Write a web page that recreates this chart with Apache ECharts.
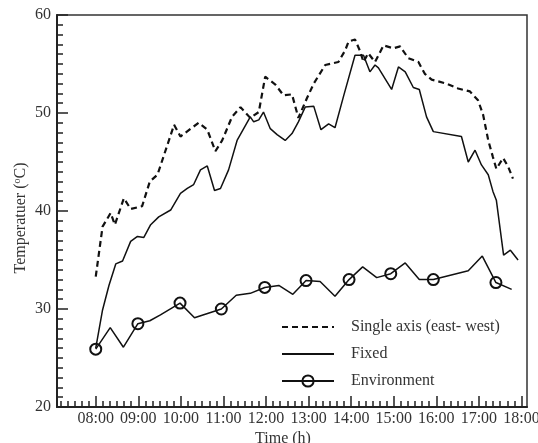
<!DOCTYPE html>
<html>
<head>
<meta charset="utf-8">
<script src="https://cdn.jsdelivr.net/npm/echarts@6/dist/echarts.min.js"></script>
<style>
  html, body { margin: 0; padding: 0; background: #fff; }
  #chart { width: 538px; height: 443px; }
</style>
</head>
<body>
<div id="chart"></div>
<script>
// Temperatures over the day (time in decimal hours, °C)
const singleAxisTime = [8.00, 8.16, 8.35, 8.45, 8.66, 8.82, 9.09, 9.27, 9.45, 9.84, 9.99, 10.23, 10.42, 10.62, 10.81, 10.97, 11.20, 11.40, 11.63, 11.83, 11.98, 12.22, 12.41, 12.61, 12.76, 12.96, 13.12, 13.39, 13.70, 13.86, 13.94, 14.09, 14.21, 14.29, 14.40, 14.56, 14.76, 14.99, 15.15, 15.34, 15.58, 15.73, 15.89, 16.24, 16.51, 16.79, 16.98, 17.10, 17.22, 17.33, 17.41, 17.57, 17.69, 17.80];
const singleAxisTemp = [33.3, 38.4, 39.8, 38.6, 41.3, 40.2, 40.5, 43.0, 43.7, 48.8, 47.6, 48.4, 49.0, 48.3, 46.1, 47.2, 49.6, 50.6, 49.5, 50.1, 53.7, 52.9, 51.8, 51.9, 49.5, 51.5, 53.0, 54.9, 55.2, 56.4, 57.3, 57.5, 56.3, 55.2, 56.1, 55.2, 56.9, 56.6, 56.8, 55.6, 55.2, 54.0, 53.4, 53.0, 52.5, 52.2, 51.3, 49.8, 47.2, 45.5, 44.3, 45.4, 44.5, 43.3];

const fixedTime = [8.00, 8.16, 8.31, 8.47, 8.63, 8.82, 8.98, 9.13, 9.29, 9.48, 9.76, 9.99, 10.15, 10.30, 10.46, 10.62, 10.79, 10.93, 11.12, 11.32, 11.63, 11.71, 11.83, 11.94, 12.10, 12.26, 12.45, 12.61, 12.76, 12.92, 13.12, 13.29, 13.47, 13.62, 13.82, 14.09, 14.29, 14.44, 14.56, 14.64, 14.95, 15.11, 15.27, 15.46, 15.60, 15.77, 15.93, 16.59, 16.75, 16.91, 17.06, 17.22, 17.33, 17.41, 17.58, 17.74, 17.92];
const fixedTemp = [26.0, 29.9, 32.4, 34.6, 34.9, 36.9, 37.4, 37.3, 38.6, 39.4, 40.1, 41.8, 42.3, 42.7, 44.2, 44.6, 42.1, 42.3, 44.2, 47.2, 49.6, 49.1, 49.3, 50.1, 48.4, 47.8, 47.2, 47.9, 49.1, 50.6, 50.7, 48.3, 48.9, 48.5, 51.7, 55.9, 55.9, 54.2, 54.9, 54.6, 52.4, 54.7, 54.2, 52.6, 52.4, 49.6, 48.1, 47.6, 45.0, 46.2, 44.7, 43.7, 42.0, 41.1, 35.5, 36.0, 35.0];

const envTime = [8.00, 8.34, 8.65, 8.99, 9.27, 9.52, 9.98, 10.32, 10.95, 11.30, 11.63, 11.97, 12.30, 12.63, 12.94, 13.27, 13.62, 13.95, 14.27, 14.60, 14.93, 15.27, 15.60, 15.93, 16.75, 17.08, 17.40, 17.77];
const envTemp = [25.9, 28.1, 26.1, 28.5, 28.8, 29.4, 30.6, 29.1, 30.0, 31.4, 31.6, 32.2, 32.4, 31.5, 32.9, 32.8, 31.3, 33.0, 34.3, 33.2, 33.6, 34.7, 33.0, 33.0, 33.9, 35.4, 32.7, 32.0];
// points that carry a circle symbol
const envMarked = [1, 0, 0, 1, 0, 0, 1, 0, 1, 0, 0, 1, 0, 0, 1, 0, 0, 1, 0, 0, 1, 0, 0, 1, 0, 0, 1, 0];

const hourTicks = [8, 9, 10, 11, 12, 13, 14, 15, 16, 17, 18];
const hourLabels = ['08:00', '09:00', '10:00', '11:00', '12:00', '13:00', '14:00', '15:00', '16:00', '17:00', '18:00'];
const xMin = 7.09, xMax = 18.13;

// ten-minute minor ticks between the hour ticks
const minorTicks = [];
for (let m = 7 * 60 + 10; m <= 18 * 60; m += 10) {
  if (m % 60 !== 0) minorTicks.push(m / 60);
}

const pair = (ts, vs) => ts.map((t, i) => [t, vs[i]]);
const FONT = 'Liberation Serif';
const INK = '#111';
const TEXT = '#333';
const NO_SYMBOL = { color: 'rgba(0,0,0,0)', borderWidth: 0 };

const envData = envTime.map((t, i) => envMarked[i]
  ? { value: [t, envTemp[i]] }
  : { value: [t, envTemp[i]], symbol: 'none' });

const chart = echarts.init(document.getElementById('chart'), null, { renderer: 'canvas' });
chart.setOption({
  animation: false,
  backgroundColor: '#fff',
  grid: {
    left: 57, right: 11, top: 15, bottom: 36,
    show: true, borderColor: '#333', borderWidth: 1.5,
    containLabel: false, outerBoundsMode: 'none'
  },
  legend: {
    orient: 'vertical',
    left: 281, top: 319, padding: 0,
    itemWidth: 52, itemHeight: 14, itemGap: 11,
    textStyle: { fontFamily: FONT, fontSize: 16, color: TEXT, padding: [0, 0, 0, 12] },
    data: [
      { name: 'Single axis (east- west)', itemStyle: NO_SYMBOL },
      { name: 'Fixed', itemStyle: NO_SYMBOL },
      { name: 'Environment' }
    ]
  },
  xAxis: [{
    type: 'value', min: xMin, max: xMax, position: 'bottom',
    name: 'Time (h)', nameLocation: 'middle', nameGap: 24, nameMoveOverlap: false,
    nameTextStyle: { fontFamily: FONT, fontSize: 16, color: TEXT, padding: [0, 18, 0, 0] },
    axisLine: { show: true, lineStyle: { color: '#222', width: 2 } },
    axisTick: { show: true, inside: true, length: 11, customValues: hourTicks, lineStyle: { color: '#222', width: 1.5 } },
    axisLabel: {
      customValues: hourTicks, margin: 4,
      fontFamily: FONT, fontSize: 16, color: TEXT,
      formatter: v => hourLabels[hourTicks.indexOf(Math.round(v))] || ''
    },
    splitLine: { show: false }
  }, {
    type: 'value', min: xMin, max: xMax, position: 'bottom',
    axisLine: { show: false },
    axisTick: { show: true, inside: true, length: 6, customValues: minorTicks, lineStyle: { color: '#222', width: 1.5 } },
    axisLabel: { show: false },
    splitLine: { show: false }
  }],
  yAxis: {
    type: 'value', min: 20, max: 60, interval: 10,
    name: 'Temperatuer ({sup|o}C)', nameLocation: 'middle', nameGap: 27, nameMoveOverlap: false,
    nameTextStyle: {
      fontFamily: FONT, fontSize: 16, color: TEXT, lineHeight: 18,
      padding: [0, 14, 0, 0],
      rich: { sup: { fontFamily: FONT, fontSize: 10, color: TEXT, verticalAlign: 'top', lineHeight: 18, padding: [0, 0, 6, 0] } }
    },
    axisLine: { show: true, lineStyle: { color: '#222', width: 2 } },
    axisTick: { show: true, inside: true, length: 11, lineStyle: { color: '#222', width: 1.5 } },
    minorTick: { show: true, splitNumber: 10, length: 6, lineStyle: { color: '#222', width: 1.5 } },
    axisLabel: { margin: 6, fontFamily: FONT, fontSize: 16, color: TEXT },
    splitLine: { show: false },
    minorSplitLine: { show: false }
  },
  series: [{
    name: 'Single axis (east- west)', type: 'line', xAxisIndex: 0,
    data: pair(singleAxisTime, singleAxisTemp),
    symbol: 'none',
    lineStyle: { color: INK, width: 2.2, type: [6, 4] },
    itemStyle: { color: INK }
  }, {
    name: 'Fixed', type: 'line', xAxisIndex: 0,
    data: pair(fixedTime, fixedTemp),
    symbol: 'none',
    lineStyle: { color: INK, width: 1.5 },
    itemStyle: { color: INK }
  }, {
    name: 'Environment', type: 'line', xAxisIndex: 0,
    data: envData,
    symbol: 'circle', symbolSize: 11, showSymbol: true,
    lineStyle: { color: INK, width: 1.5 },
    itemStyle: { color: 'rgba(255,255,255,0)', borderColor: INK, borderWidth: 2 }
  }]
});
</script>
</body>
</html>
